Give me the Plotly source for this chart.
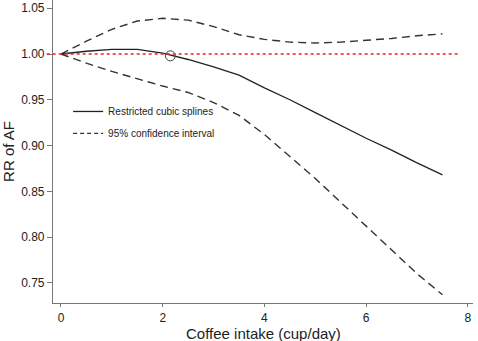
import plotly.graph_objects as go

# Coffee intake (cups/day)
x_vals = [0, 0.5, 1, 1.5, 2, 2.5, 3, 3.5, 4, 4.5, 5, 5.5, 6, 6.5, 7, 7.5]
rr_spline = [1.000, 1.003, 1.005, 1.005, 1.001, 0.994, 0.986, 0.977, 0.963, 0.950,
             0.936, 0.922, 0.908, 0.895, 0.881, 0.868]
ci_upper = [1.000, 1.014, 1.027, 1.036, 1.039, 1.037, 1.030, 1.021, 1.016, 1.013,
            1.012, 1.013, 1.015, 1.017, 1.020, 1.022]
ci_lower = [1.000, 0.990, 0.981, 0.973, 0.965, 0.958, 0.947, 0.933, 0.912, 0.888,
            0.864, 0.838, 0.812, 0.786, 0.760, 0.737]
ref_x = [2.15]
ref_y = [0.998]
null_rr = 1.0
x_ticks = [0, 2, 4, 6, 8]
y_ticks = [0.75, 0.80, 0.85, 0.90, 0.95, 1.00, 1.05]

FONT = "Liberation Sans, Arial, sans-serif"
fig = go.Figure()

fig.add_trace(go.Scatter(x=x_vals, y=ci_upper, mode="lines", showlegend=False,
                         line=dict(color="#333333", width=1.4, dash="8px,5px")))
fig.add_trace(go.Scatter(x=x_vals, y=ci_lower, mode="lines", showlegend=False,
                         line=dict(color="#333333", width=1.4, dash="8px,5px")))
fig.add_trace(go.Scatter(x=x_vals, y=rr_spline, mode="lines", name="Restricted cubic splines",
                         line=dict(color="#222222", width=1.3), legendgroup="a"))
fig.add_trace(go.Scatter(x=[None], y=[None], mode="lines", name="95% confidence interval",
                         line=dict(color="#333333", width=1.2, dash="4px,3px"), legendgroup="b"))
fig.add_trace(go.Scatter(x=ref_x, y=ref_y, mode="markers", showlegend=False,
                         marker=dict(symbol="circle-open", size=10, color="#444444",
                                     line=dict(width=1))))

fig.add_shape(type="line", xref="paper", yref="y", x0=-0.015, x1=0.965, y0=null_rr, y1=null_rr,
              line=dict(color="#e8262b", width=1.3, dash="3px,3px"), layer="above")

fig.add_annotation(text="Coffee intake (cup/day)", xref="paper", yref="paper",
                   x=0.5, y=-0.1, xanchor="center", yanchor="middle", showarrow=False,
                   font=dict(size=15, family=FONT, color="#222222"))

fig.update_layout(
    width=478, height=341,
    margin=dict(l=53, r=5, t=0, b=38),
    paper_bgcolor="white", plot_bgcolor="white",
    font=dict(family=FONT, color="#222222"),
    showlegend=True,
    legend=dict(x=0.036, y=0.68, xanchor="left", yanchor="top", bgcolor="rgba(0,0,0,0)",
                font=dict(size=10, family=FONT, color="#222222"), tracegroupgap=3,
                itemwidth=30),
    xaxis=dict(range=[-0.157, 8.1], tickvals=x_ticks, ticks="outside", ticklen=3,
               tickcolor="#777777", showline=True, linecolor="#777777", linewidth=1.2,
               showgrid=False, zeroline=False, tickfont=dict(size=12, color="#222222"),
               automargin=False),
    yaxis=dict(range=[0.728, 1.059], tickvals=y_ticks, tickformat=".2f", ticks="outside",
               ticklen=5, tickcolor="#777777", showline=True, linecolor="#777777", linewidth=1.2,
               showgrid=False, zeroline=False, tickfont=dict(size=12, color="#222222"),
               automargin=False,
               title=dict(text="RR of AF", font=dict(size=15, color="#222222"))),
)

fig.write_html("out.html", config={"displayModeBar": False},
               post_script="document.body.style.margin='0';")
